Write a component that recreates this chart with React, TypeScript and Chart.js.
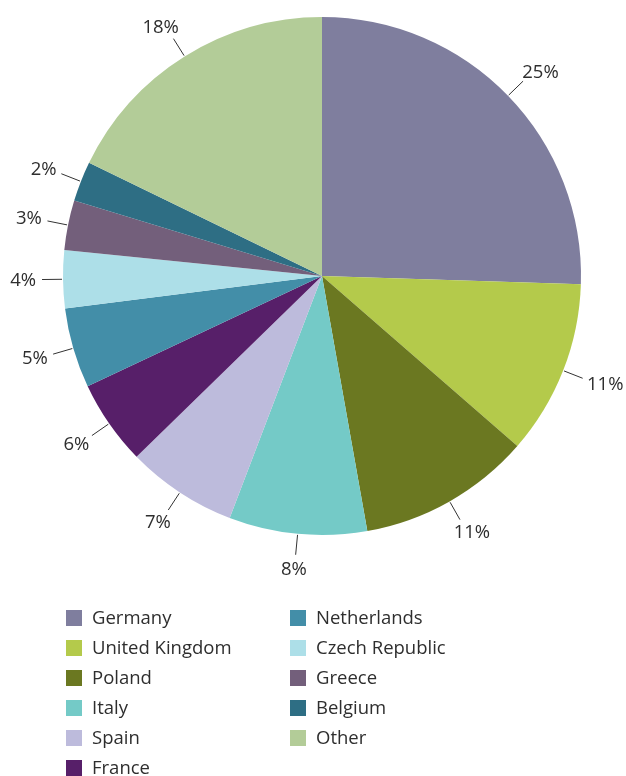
import React, { useEffect, useRef } from "react";
import { Chart, registerables } from "chart.js";

Chart.register(...registerables);

const categories = [
  "Germany",
  "United Kingdom",
  "Poland",
  "Italy",
  "Spain",
  "France",
  "Netherlands",
  "Czech Republic",
  "Greece",
  "Belgium",
  "Other",
];
const shares = [25.5, 10.9, 10.8, 8.6, 6.9, 5.3, 5.0, 3.6, 3.1, 2.5, 17.8];
const shareLabels = ["25%", "11%", "11%", "8%", "7%", "6%", "5%", "4%", "3%", "2%", "18%"];
const colors = [
  "#7f7e9e",
  "#b4ca4b",
  "#6b7821",
  "#74cac7",
  "#bdbbdc",
  "#571f69",
  "#438ea8",
  "#addfe8",
  "#735f7b",
  "#2e6e84",
  "#b3cc98",
];
const legendLeftCount = 6;

const FONT = "'Open Sans', 'Noto Sans', sans-serif";
const TEXT_COLOR = "#2e2e2e";

const labelPlugin = {
  id: "outerLabels",
  afterDatasetsDraw(chart: any) {
    const ctx = chart.ctx;
    const meta = chart.getDatasetMeta(0);
    ctx.save();
    ctx.font = `18.5px ${FONT}`;
    ctx.fillStyle = TEXT_COLOR;
    ctx.strokeStyle = "#333333";
    ctx.lineWidth = 1;
    ctx.textAlign = "center";
    ctx.textBaseline = "middle";
    meta.data.forEach((arc: any, i: number) => {
      const { x, y, startAngle, endAngle, outerRadius } = arc.getProps(
        ["x", "y", "startAngle", "endAngle", "outerRadius"],
        true
      );
      const mid = (startAngle + endAngle) / 2;
      const dx = Math.cos(mid);
      const dy = Math.sin(mid);
      const r0 = outerRadius + 1;
      const r1 = outerRadius + 21;
      ctx.beginPath();
      ctx.moveTo(x + dx * r0, y + dy * r0);
      ctx.lineTo(x + dx * r1, y + dy * r1);
      ctx.stroke();
      const px = x + dx * r1;
      const py = y + dy * r1;
      const text = shareLabels[i];
      const w = ctx.measureText(text).width;
      const cx = px + dx * (w / 2 + 6);
      const cy = py + dy * 14;
      ctx.fillText(text, cx, cy + 1);
    });
    ctx.restore();
  },
};

const legendPlugin = {
  id: "columnLegend",
  afterDraw(chart: any) {
    const ctx = chart.ctx;
    ctx.save();
    ctx.font = `18.5px ${FONT}`;
    ctx.textAlign = "left";
    ctx.textBaseline = "middle";
    categories.forEach((name, i) => {
      const col = i < legendLeftCount ? 0 : 1;
      const row = col === 0 ? i : i - legendLeftCount;
      const sx = col === 0 ? 66 : 290;
      const sy = 610 + row * 30;
      ctx.fillStyle = colors[i];
      ctx.fillRect(sx, sy, 16, 16);
      ctx.fillStyle = TEXT_COLOR;
      ctx.fillText(name, sx + 26, sy + 9);
    });
    ctx.restore();
  },
};

export default function App() {
  const ref = useRef<HTMLCanvasElement | null>(null);
  useEffect(() => {
    if (!ref.current) return;
    const chart = new Chart(ref.current, {
      type: "pie",
      data: {
        labels: categories,
        datasets: [
          {
            data: shares,
            backgroundColor: colors,
            borderWidth: 0,
          },
        ],
      },
      options: {
        responsive: false,
        animation: false,
        layout: { padding: { left: 63, right: 45, top: 17, bottom: 241 } },
        plugins: {
          legend: { display: false },
          tooltip: { enabled: false },
        },
      },
      plugins: [labelPlugin, legendPlugin],
    });
    return () => chart.destroy();
  }, []);
  return (
    <div style={{ position: "fixed", left: 0, top: 0, width: 626, height: 776, background: "#fff" }}>
      <canvas ref={ref} width={626} height={776} style={{ width: 626, height: 776, display: "block" }} />
    </div>
  );
}
